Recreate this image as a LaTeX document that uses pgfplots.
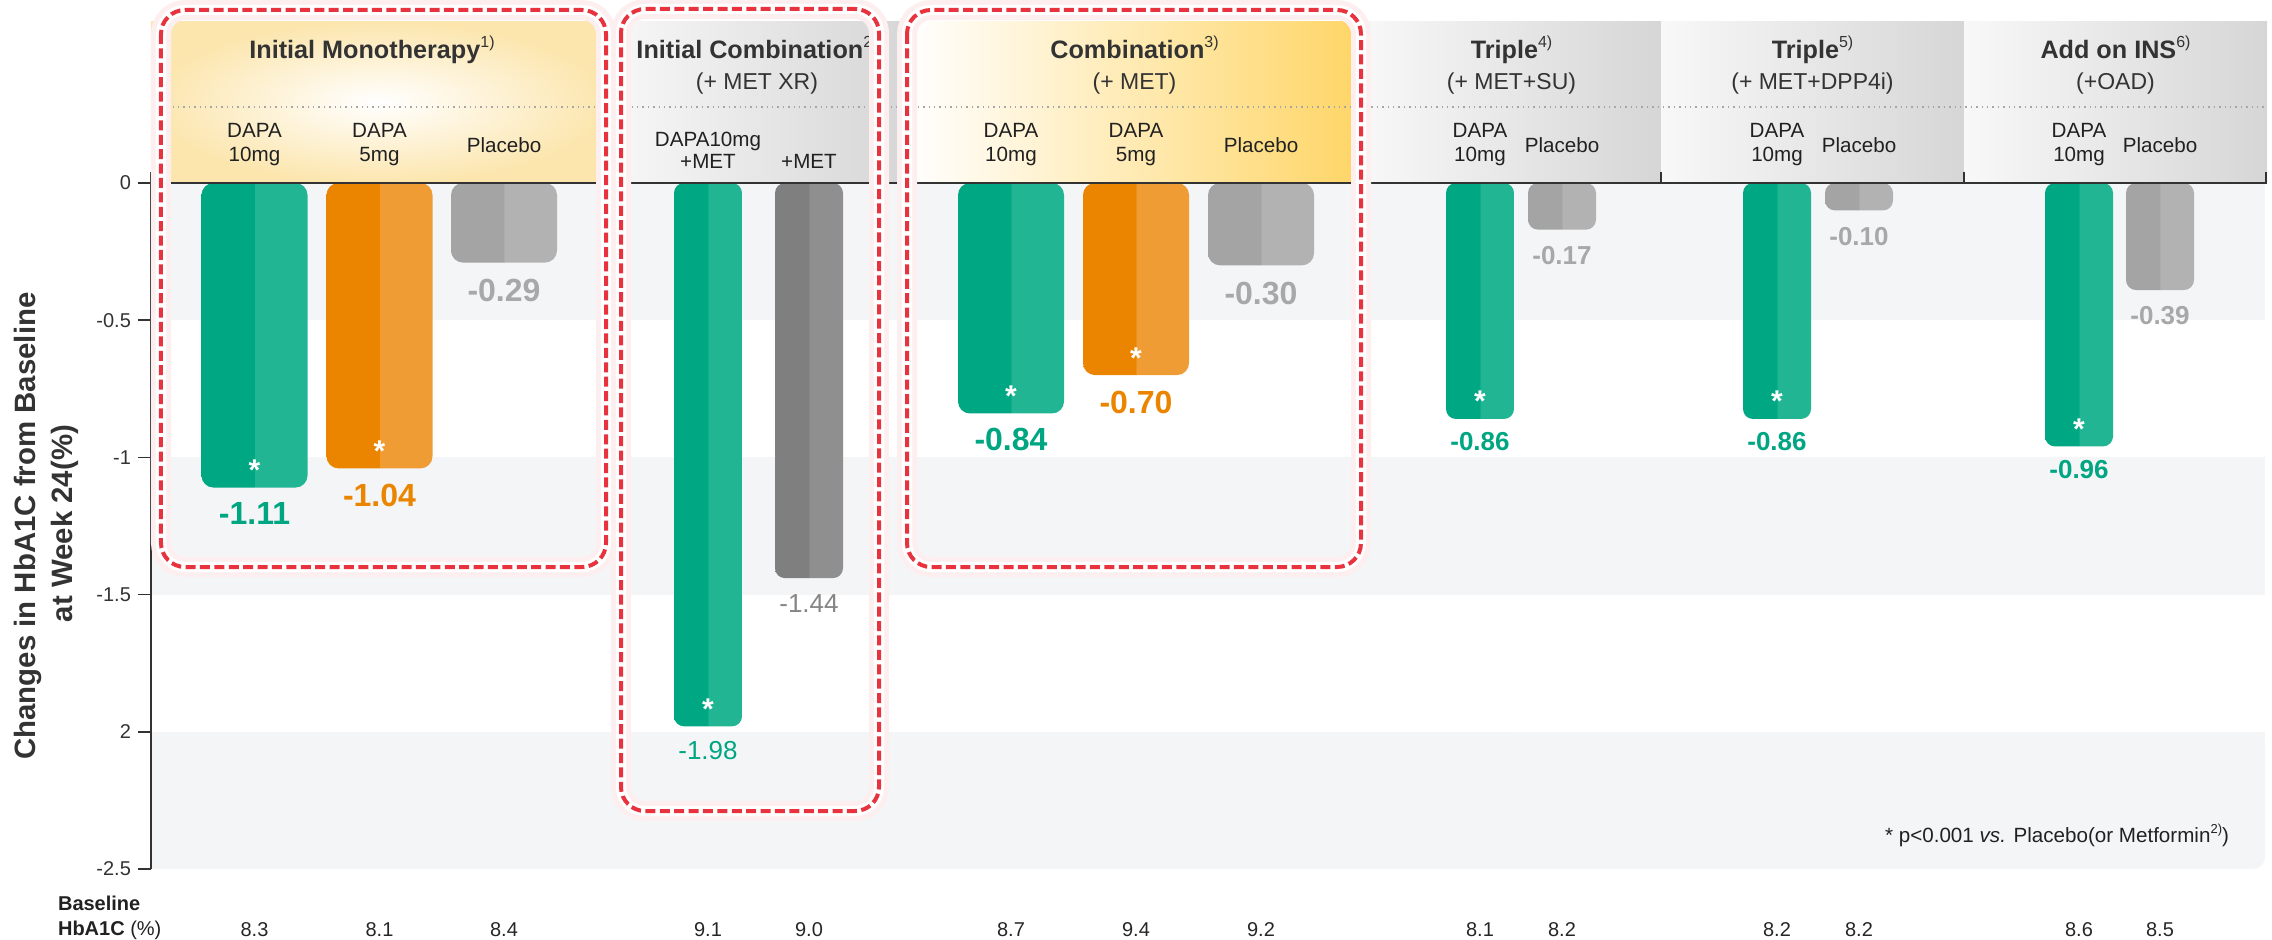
\documentclass[border=0pt]{standalone}
\usepackage{fontspec}
\setmainfont{Liberation Sans}
\usepackage{pgfplots}
\usepackage{pgfplotstable}
\pgfplotsset{compat=1.18}

% bar colours: each bar is split into a darker left half and a lighter right half
\definecolor{grnA}{HTML}{00A783}
\definecolor{grnB}{HTML}{22B594}
\definecolor{orgA}{HTML}{EB8500}
\definecolor{orgB}{HTML}{EE9C33}
\definecolor{plcA}{HTML}{A4A4A4}
\definecolor{plcB}{HTML}{B2B2B2}
\definecolor{metA}{HTML}{7F7F7F}
\definecolor{metB}{HTML}{8F8F8F}
% text and decoration colours
\definecolor{grnTxt}{HTML}{00A582}
\definecolor{orgTxt}{HTML}{EB8500}
\definecolor{plcTxt}{HTML}{A8A8A8}
\definecolor{metTxt}{HTML}{858585}
\definecolor{band}{HTML}{F4F5F7}
\definecolor{ink}{HTML}{333333}
\definecolor{boxred}{HTML}{E8333F}
\definecolor{hdrYel}{HTML}{FCE6AE}
\definecolor{hdrOrg}{HTML}{FED566}
\definecolor{hdrGryL}{HTML}{F8F8F8}
\definecolor{hdrGryR}{HTML}{D6D6D6}

\pgfdeclarehorizontalshading{grnsplit}{100bp}{color(0bp)=(grnA); color(49.9bp)=(grnA); color(50.1bp)=(grnB); color(100bp)=(grnB)}
\pgfdeclarehorizontalshading{orgsplit}{100bp}{color(0bp)=(orgA); color(49.9bp)=(orgA); color(50.1bp)=(orgB); color(100bp)=(orgB)}
\pgfdeclarehorizontalshading{plcsplit}{100bp}{color(0bp)=(plcA); color(49.9bp)=(plcA); color(50.1bp)=(plcB); color(100bp)=(plcB)}
\pgfdeclarehorizontalshading{metsplit}{100bp}{color(0bp)=(metA); color(49.9bp)=(metA); color(50.1bp)=(metB); color(100bp)=(metB)}

\newcommand\sups[2][8]{\raisebox{0.42em}{\mdseries\fontsize{#1}{#1}\selectfont #2}}

% HbA1c change at week 24; x is the bar centre on the layout grid
\pgfplotstableread{
x     v
254.5 -1.11
1011  -0.84
}\greenwide
\pgfplotstableread{
x     v
379.5 -1.04
1136  -0.70
}\orangewide
\pgfplotstableread{
x     v
504   -0.29
1261  -0.30
}\placebowide
\pgfplotstableread{
x     v
708   -1.98
}\greencombo
\pgfplotstableread{
x     v
809   -1.44
}\metonly
\pgfplotstableread{
x     v
1480  -0.86
1777  -0.86
2079  -0.96
}\greentriple
\pgfplotstableread{
x     v
1562  -0.17
1859  -0.10
2160  -0.39
}\placebonarrow

\pgfplotsset{
  % one bar per plot, so that the two-tone shading fits each bar
  splitbar/.style n args={4}{ybar, bar shift=0pt, bar width=#1, draw=none,
    shade, shading=#2, rounded corners=#3, restrict x to domain=#4},
  valuenodes/.style n args={3}{point meta=explicit,
    nodes near coords={\pgfmathprintnumber[fixed,fixed zerofill,precision=2,assume math mode=true]{\pgfplotspointmeta}},
    every node near coord/.append style={anchor=base, yshift=-#1, text=#2, font=#3}},
  starnodes/.style={ybar, bar shift=0pt, bar width=#1, draw=none, fill=none,
    nodes near coords={*},
    every node near coord/.append style={anchor=base, yshift=3.5pt, text=white,
      font=\bfseries\fontsize{15}{15}\selectfont}},
  bigval/.style={valuenodes={#1}{grnTxt}{\bfseries\fontsize{16}{16}\selectfont}},
}

\begin{document}
\begin{tikzpicture}
\useasboundingbox (-75.5pt,-35pt) rectangle (1060.5pt,434.5pt);

% layout frame: (0,0) top-left, one unit = 0.5pt, y downwards
\begin{scope}[shift={(-75.5pt,434.5pt)}, x=0.5pt, y=-0.5pt]
  \fill[band] (151,183) rectangle (2265,320.2);
  \fill[band] (151,457.4) rectangle (2265,594.6);
  \fill[band, rounded corners=6pt] (1500,731.8) rectangle (2265,869);
  \fill[band] (151,731.8) rectangle (2240,869);
  \fill[band] (1500,731.8) rectangle (2265,840);
\end{scope}

\begin{axis}[
  at={(0pt,0pt)}, anchor=south west,
  scale only axis, width=1057pt, height=343pt,
  xmin=151, xmax=2265, ymin=-2.5, ymax=0,
  enlargelimits=false,
  y coord trafo/.code={\pgfmathparse{#1-0.1}},
  y coord inv trafo/.code={\pgfmathparse{#1+0.1}},
  clip mode=individual,
  axis lines*=left,
  x axis line style={draw=none},
  y axis line style={draw=ink, line width=0.8pt},
  tick align=outside,
  major tick length=6.5pt,
  major tick style={draw=ink, line width=0.8pt},
  major x tick style={draw=none},
  ytick={0,-0.5,-1,-1.5,-2,-2.5},
  yticklabels={0,-0.5,-1,-1.5,2,-2.5},
  yticklabel style={font=\fontsize{10}{12}\selectfont, text=ink},
  xtick={254.5,379.5,504,708,809,1011,1136,1261,1480,1562,1777,1859,2079,2160},
  xticklabels={8.3,8.1,8.4,9.1,9.0,8.7,9.4,9.2,8.1,8.2,8.2,8.2,8.6,8.5},
  xticklabel style={font=\fontsize{10}{12}\selectfont, text=black!85, anchor=base, yshift=-27pt},
]
  % Initial monotherapy and combination with MET
  \addplot[splitbar={106}{grnsplit}{6pt}{250:260}, valuenodes={18.5pt}{grnTxt}{\bfseries\fontsize{16}{16}\selectfont}]
    table[x=x, y=v, meta=v] {\greenwide};
  \addplot[splitbar={106}{grnsplit}{6pt}{1005:1015}, valuenodes={18.5pt}{grnTxt}{\bfseries\fontsize{16}{16}\selectfont}]
    table[x=x, y=v, meta=v] {\greenwide};
  \addplot[splitbar={106}{orgsplit}{6pt}{375:385}, valuenodes={19.3pt}{orgTxt}{\bfseries\fontsize{16}{16}\selectfont}]
    table[x=x, y=v, meta=v] {\orangewide};
  \addplot[splitbar={106}{orgsplit}{6pt}{1130:1140}, valuenodes={19.3pt}{orgTxt}{\bfseries\fontsize{16}{16}\selectfont}]
    table[x=x, y=v, meta=v] {\orangewide};
  \addplot[splitbar={106}{plcsplit}{6pt}{500:510}, valuenodes={19.5pt}{plcTxt}{\bfseries\fontsize{16}{16}\selectfont}]
    table[x=x, y=v, meta=v] {\placebowide};
  \addplot[splitbar={106}{plcsplit}{6pt}{1255:1265}, valuenodes={19.5pt}{plcTxt}{\bfseries\fontsize{16}{16}\selectfont}]
    table[x=x, y=v, meta=v] {\placebowide};
  % initial combination with MET XR
  \addplot[splitbar={68}{grnsplit}{5pt}{700:715}, valuenodes={16.7pt}{grnTxt}{\fontsize{13}{13}\selectfont}]
    table[x=x, y=v, meta=v] {\greencombo};
  \addplot[splitbar={68}{metsplit}{5pt}{800:815}, valuenodes={17.4pt}{metTxt}{\fontsize{13}{13}\selectfont}]
    table[x=x, y=v, meta=v] {\metonly};
  % triple therapy and add-on to insulin
  \addplot[splitbar={68}{grnsplit}{5pt}{1475:1485}, valuenodes={15.8pt}{grnTxt}{\bfseries\fontsize{13}{13}\selectfont}]
    table[x=x, y=v, meta=v] {\greentriple};
  \addplot[splitbar={68}{grnsplit}{5pt}{1770:1785}, valuenodes={15.8pt}{grnTxt}{\bfseries\fontsize{13}{13}\selectfont}]
    table[x=x, y=v, meta=v] {\greentriple};
  \addplot[splitbar={68}{grnsplit}{5pt}{2075:2085}, valuenodes={15.8pt}{grnTxt}{\bfseries\fontsize{13}{13}\selectfont}]
    table[x=x, y=v, meta=v] {\greentriple};
  \addplot[splitbar={68}{plcsplit}{5pt}{1555:1570}, valuenodes={17.4pt}{plcTxt}{\bfseries\fontsize{13}{13}\selectfont}]
    table[x=x, y=v, meta=v] {\placebonarrow};
  \addplot[splitbar={68}{plcsplit}{5pt}{1855:1865}, valuenodes={17.4pt}{plcTxt}{\bfseries\fontsize{13}{13}\selectfont}]
    table[x=x, y=v, meta=v] {\placebonarrow};
  \addplot[splitbar={68}{plcsplit}{5pt}{2155:2165}, valuenodes={17.4pt}{plcTxt}{\bfseries\fontsize{13}{13}\selectfont}]
    table[x=x, y=v, meta=v] {\placebonarrow};
  % significance stars inside the active-treatment bars
  \addplot[starnodes=106] table[x=x, y=v] {\greenwide};
  \addplot[starnodes=106] table[x=x, y=v] {\orangewide};
  \addplot[starnodes=68] table[x=x, y=v] {\greencombo};
  \addplot[starnodes=68] table[x=x, y=v] {\greentriple};
\end{axis}

\begin{scope}[shift={(-75.5pt,434.5pt)}, x=0.5pt, y=-0.5pt,
  title/.style={anchor=base, text=ink, font=\bfseries\fontsize{12.6}{14}\selectfont},
  sub/.style={anchor=base, text=ink, font=\fontsize{11.5}{14}\selectfont},
  lab/.style={anchor=base, text=black!87, font=\fontsize{10.3}{12}\selectfont}]
  % header panels
  \shade[inner color=white, outer color=hdrYel] (151,22) rectangle (607,183);
  \shade[left color=hdrGryL, right color=hdrGryR] (607,22) rectangle (907,183);
  \shade[left color=white, right color=hdrOrg] (907,22) rectangle (1362,183);
  \shade[left color=hdrGryL, right color=hdrGryR] (1362,22) rectangle (1661,183);
  \shade[left color=hdrGryL, right color=hdrGryR] (1661,22) rectangle (1964,183);
  \shade[left color=hdrGryL, right color=hdrGryR] (1964,22) rectangle (2267,183);
  \draw[black!35, dotted, line width=0.7pt] (151,107) -- (2267,107);
  \draw[ink, line width=0.8pt] (151,183) -- (2267,183);
  \draw[ink, line width=0.8pt] (151,172) -- (151,183);
  \foreach \t in {1661,1964,2266} \draw[ink, line width=0.6pt] (\t,172) -- (\t,183);

  % group titles
  \node[title] at (372,58.5) {Initial Monotherapy\sups{1)}};
  \node[title] at (757,58.5) {Initial Combination\sups{2)}};
  \node[sub]   at (757,89.5) {(+ MET XR)};
  \node[title] at (1134.5,58.5) {Combination\sups{3)}};
  \node[sub]   at (1134.5,89.5) {(+ MET)};
  \node[title] at (1511.5,58.5) {Triple\sups{4)}};
  \node[sub]   at (1511.5,89.5) {(+ MET+SU)};
  \node[title] at (1812.5,58.5) {Triple\sups{5)}};
  \node[sub]   at (1812.5,89.5) {(+ MET+DPP4i)};
  \node[title] at (2115.5,58.5) {Add on INS\sups{6)}};
  \node[sub]   at (2115.5,89.5) {(+OAD)};

  % arm names
  \foreach \x/\a/\b in {254.5/DAPA/10mg, 379.5/DAPA/5mg, 1011/DAPA/10mg, 1136/DAPA/5mg,
                        1480/DAPA/10mg, 1777/DAPA/10mg, 2079/DAPA/10mg} {
    \node[lab] at (\x,137.5) {\a};
    \node[lab] at (\x,161.5) {\b};
  }
  \foreach \x in {504,1261,1562,1859,2160} \node[lab] at (\x,153) {Placebo};
  \node[lab] at (708,146.7) {DAPA10mg};
  \node[lab] at (708,168.3) {+MET};
  \node[lab] at (809,168.3) {+MET};

  % axis title
  \node[rotate=90, anchor=base, text=ink, font=\bfseries\fontsize{14.7}{16}\selectfont]
    at (36,526) {Changes in HbA1C from Baseline};
  \node[rotate=90, anchor=base, text=ink, font=\bfseries\fontsize{14.7}{16}\selectfont]
    at (73,523.5) {at Week 24(\%)};

  % baseline row caption
  \node[anchor=base west, text=black!87, font=\bfseries\fontsize{10}{12}\selectfont] at (51,910) {Baseline};
  \node[anchor=base west, text=black!87, font=\fontsize{10}{12}\selectfont] at (51,935.7) {\textbf{HbA1C} (\%)};

  % footnote
  \node[anchor=base east, text=black!87, font=\fontsize{10.3}{12}\selectfont] at (2236,842)
    {* p<0.001 \textit{vs.} Placebo(or Metformin\sups[6.5]{2)})};

  % highlight frames
  \foreach \a/\b/\c/\d in {161/10/606/567, 621/9/879/811, 907/10/1361/567} {
    \draw[boxred!8, line width=10pt, rounded corners=12pt] (\a,\b) rectangle (\c,\d);
    \draw[white, line width=5pt, rounded corners=12pt] (\a,\b) rectangle (\c,\d);
    \draw[boxred, line width=2pt, dash pattern=on 5pt off 2.2pt, rounded corners=12pt] (\a,\b) rectangle (\c,\d);
  }
\end{scope}
\end{tikzpicture}
\end{document}
